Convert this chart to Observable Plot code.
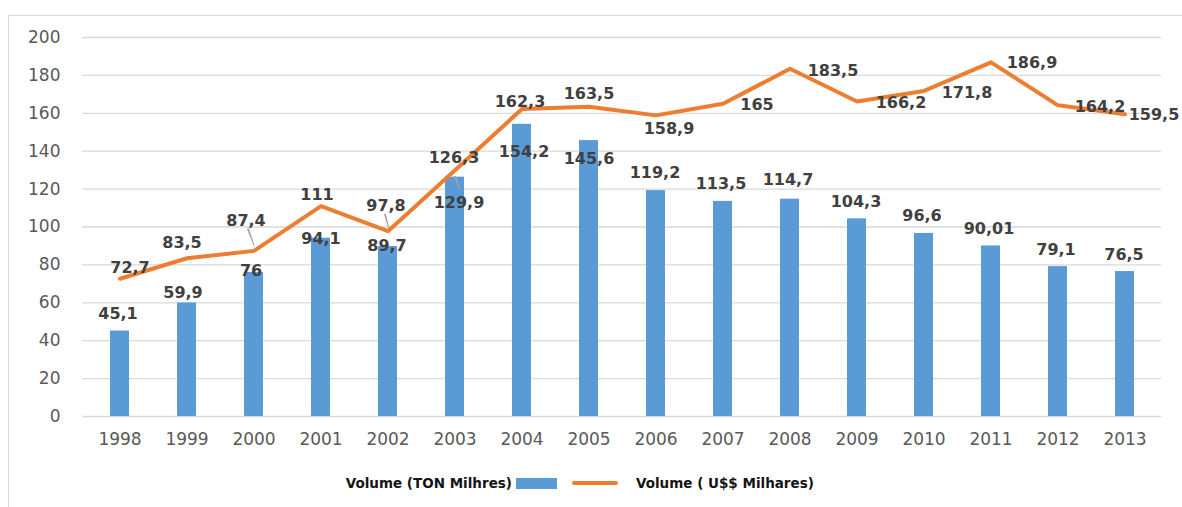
<!DOCTYPE html>
<html>
<head>
<meta charset="utf-8">
<script src="https://cdn.jsdelivr.net/npm/d3@7"></script>
<script src="https://cdn.jsdelivr.net/npm/@observablehq/plot@0.6"></script>
<style>
  html, body { margin: 0; padding: 0; background: #fff; }
  #wrap { position: relative; width: 1182px; height: 507px; overflow: hidden; }
  #frame { position: absolute; left: 8px; top: 15px; width: 1200px; height: 520px; border: 1.5px solid #d9d9d9; box-sizing: border-box; }
  #chart { position: absolute; left: 0; top: 0; }
  #chart svg { background: transparent; overflow: visible; }
  #legend { position: absolute; left: 0; top: 460px; width: 1182px; height: 47px; font-family: "DejaVu Sans", sans-serif; font-weight: bold; font-size: 13.5px; color: #141414; }
  #legend .t { position: absolute; top: 15px; line-height: 16px; white-space: nowrap; }
  #legend .sw { position: absolute; }
</style>
</head>
<body>
<div id="wrap">
  <div id="frame"></div>
  <div id="chart"></div>
  <div id="legend">
    <span class="t" id="lt1"></span>
    <span class="sw" id="sw1"></span>
    <span class="sw" id="sw2"></span>
    <span class="t" id="lt2"></span>
  </div>
</div>
<script>
// ---- data ----
const years = [1998, 1999, 2000, 2001, 2002, 2003, 2004, 2005, 2006, 2007, 2008, 2009, 2010, 2011, 2012, 2013];
const tonVolume = [45.1, 59.9, 76, 94.1, 89.7, 126.3, 154.2, 145.6, 119.2, 113.5, 114.7, 104.3, 96.6, 90.01, 79.1, 76.5];
const usdVolume = [72.7, 83.5, 87.4, 111, 97.8, 129.9, 162.3, 163.5, 158.9, 165, 183.5, 166.2, 171.8, 186.9, 164.2, 159.5];
const tonLabels = ["45,1", "59,9", "76", "94,1", "89,7", "129,9", "154,2", "145,6", "119,2", "113,5", "114,7", "104,3", "96,6", "90,01", "79,1", "76,5"];
const usdLabels = ["72,7", "83,5", "87,4", "111", "97,8", "126,3", "162,3", "163,5", "158,9", "165", "183,5", "166,2", "171,8", "186,9", "164,2", "159,5"];
const yTicks = [0, 20, 40, 60, 80, 100, 120, 140, 160, 180, 200];
const seriesNames = ["Volume (TON Milhres)", "Volume ( U$$ Milhares)"];

// ---- label placement (pixel offsets from anchor) ----
const tonLabelOffset = [[-2,-17],[-4,-10],[-3,-2],[0,1],[-1,-1],[4,26],[2,28],[0,18],[-1,-18],[-2,-18],[-2,-19],[-1,-17],[-2,-18],[-2,-17],[-2,-17],[-1,-17]];
const usdLabelOffset = [[10,-11],[-5,-15],[-8,-30],[-4,-11],[-2,-25],[-1,-12],[-2,-7],[0,-13],[13,13],[34,1],[43,2],[44,1],[43,2],[41,1],[42,2],[29,1]];
// leader lines: [year index, length px, rotation deg, dx, dy]
const leaders = [[2, 18, 160, -6, -22], [4, 14, 165, -3, -17], [5, 13, 160, 0, 6]];

const BLUE = "#5B9BD5", ORANGE = "#ED7D31", LABEL = "#404040", TICK = "#595959", GRID = "#d9d9d9";

const ton = years.map((y, i) => ({year: String(y), value: tonVolume[i], label: tonLabels[i], off: tonLabelOffset[i]}));
const usd = years.map((y, i) => ({year: String(y), value: usdVolume[i], label: usdLabels[i], off: usdLabelOffset[i]}));

const labelFont = {fontFamily: "DejaVu Sans", fontWeight: "bold", fontSize: 16, fill: LABEL};

const marks = [
  Plot.gridY(yTicks, {stroke: GRID, strokeOpacity: 1, strokeWidth: 1.3}),
  Plot.axisY(yTicks, {tickSize: 0, tickPadding: 22, fontSize: 17, fontFamily: "DejaVu Sans", fill: TICK, label: null}),
  Plot.axisX({tickSize: 0, tickPadding: 16, fontSize: 17, fontFamily: "DejaVu Sans", fill: TICK, label: null}),
  Plot.barY(ton, {x: "year", y: "value", fill: BLUE}),
  Plot.line(usd, {x: "year", y: "value", stroke: ORANGE, strokeWidth: 4, strokeLinejoin: "round", strokeLinecap: "round"}),
  ...leaders.map(([i, len, rot, dx, dy]) => Plot.vector([usd[i]], {x: "year", y: "value", length: len, rotate: rot, anchor: "start", stroke: "#a6a6a6", strokeWidth: 1, dx, dy, shape: "spike", r: 0.5})),
  ...ton.map(d => Plot.text([d], {x: "year", y: "value", text: "label", dx: d.off[0], dy: d.off[1], ...labelFont})),
  ...usd.map(d => Plot.text([d], {x: "year", y: "value", text: "label", dx: d.off[0], dy: d.off[1], ...labelFont}))
];

const chart = Plot.plot({
  width: 1182,
  height: 460,
  marginTop: 37,
  marginBottom: 44,
  marginLeft: 82,
  marginRight: 21,
  style: {background: "transparent"},
  x: {type: "band", domain: years.map(String), paddingInner: 0.72, paddingOuter: 0.36, axis: null},
  y: {domain: [0, 200], axis: null},
  marks
});
document.getElementById("chart").append(chart);

// ---- legend ----
const lt1 = document.getElementById("lt1");
lt1.textContent = seriesNames[0];
const lt2 = document.getElementById("lt2");
lt2.textContent = seriesNames[1];
const sw1 = document.getElementById("sw1");
Object.assign(sw1.style, {left: "516px", top: "18px", width: "41px", height: "11px", background: BLUE});
const sw2 = document.getElementById("sw2");
Object.assign(sw2.style, {left: "572px", top: "21px", width: "46px", height: "4px", background: ORANGE, borderRadius: "2px"});
lt1.style.left = (512 - lt1.getBoundingClientRect().width) + "px";
lt2.style.left = "636px";
</script>
</body>
</html>
